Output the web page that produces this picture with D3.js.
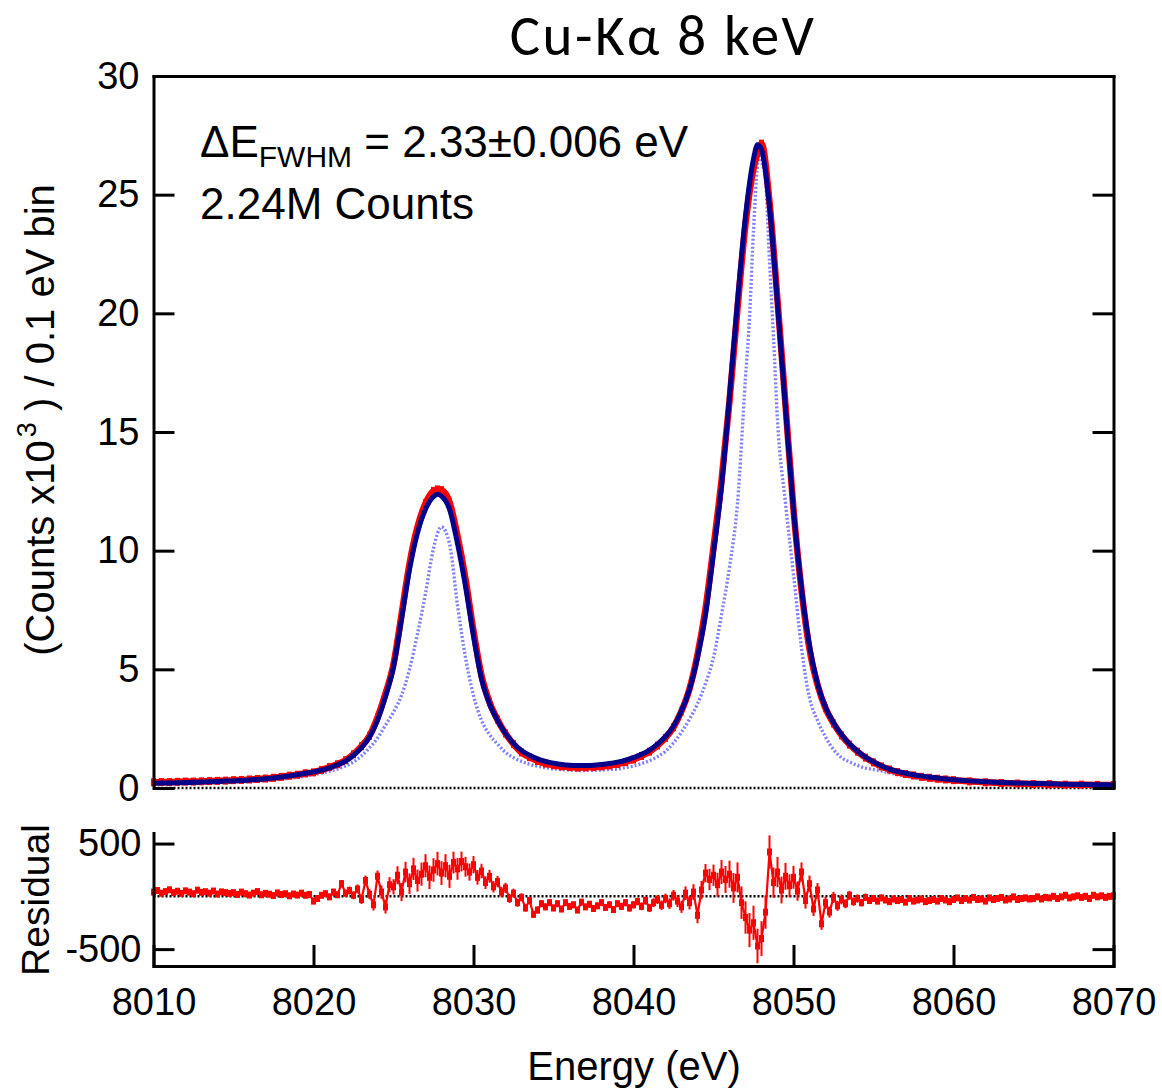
<!DOCTYPE html>
<html>
<head>
<meta charset="utf-8">
<script src="https://cdn.jsdelivr.net/npm/d3@7"></script>
<style>
  body { margin: 0; background: #fff; }
  svg { display: block; }
  text { font-family: "Liberation Sans", Arial, sans-serif; fill: #000; }
</style>
</head>
<body>
<div id="chart"></div>
<script>
// Cu-Kalpha spectrum: measured counts, fit, intrinsic line shape, and fit residual

// fit and measured data share one energy grid (eV)
const fitEnergy = [
  8010, 8010.5, 8011, 8011.5, 8012, 8012.5, 8013, 8013.5, 8014, 8014.5,
  8015, 8015.5, 8016, 8016.5, 8017, 8017.5, 8018, 8018.5, 8019, 8019.5,
  8020, 8020.5, 8021, 8021.5, 8022, 8022.5, 8023, 8023.5, 8024, 8024.5,
  8025, 8025.5, 8026, 8026.5, 8027, 8027.5, 8027.75,
  8028, 8028.5, 8029, 8029.5, 8030, 8030.5, 8031, 8031.5, 8032, 8032.5,
  8033, 8033.5, 8034, 8034.5, 8035, 8035.5, 8036, 8036.5, 8037, 8037.5,
  8038, 8038.5, 8039, 8039.5, 8040, 8040.5, 8041, 8041.5, 8042, 8042.5,
  8043, 8043.5, 8044, 8044.5, 8045, 8045.5, 8046, 8046.5, 8047, 8047.5, 8047.75,
  8048, 8048.5, 8049, 8049.5, 8050, 8050.5, 8051, 8051.5, 8052, 8052.5,
  8053, 8053.5, 8054, 8054.5, 8055, 8055.5, 8056, 8056.5, 8057, 8057.5,
  8058, 8058.5, 8059, 8059.5, 8060,
  8061, 8062, 8063, 8064, 8065, 8066, 8067, 8068, 8069, 8070
];

// fit (counts x10^3 per 0.1 eV bin)
const fitCounts = [
  0.20, 0.21, 0.21, 0.22, 0.23, 0.24, 0.25, 0.26, 0.27, 0.29,
  0.30, 0.32, 0.34, 0.36, 0.39, 0.42, 0.46, 0.51, 0.56, 0.62,
  0.68, 0.75, 0.85, 0.98, 1.13, 1.38, 1.70, 2.15, 2.85, 3.85,
  5.10, 7.10, 9.20, 10.75, 11.75, 12.28, 12.38,
  12.30, 11.75, 10.30, 8.50, 6.40, 4.60, 3.55, 2.85, 2.30, 1.88,
  1.58, 1.38, 1.23, 1.12, 1.04, 0.99, 0.96, 0.95, 0.95, 0.96,
  0.99, 1.03, 1.09, 1.17, 1.28, 1.42, 1.60, 1.85, 2.17, 2.60,
  3.25, 4.15, 5.50, 7.30, 9.90, 12.70, 16.50, 20.50, 24.10, 26.50, 27.10,
  26.90, 24.50, 20.40, 16.00, 11.70, 8.40, 6.00, 4.40, 3.40, 2.75,
  2.25, 1.85, 1.55, 1.30, 1.10, 0.93, 0.80, 0.70, 0.62, 0.56,
  0.50, 0.46, 0.42, 0.38, 0.35,
  0.30, 0.26, 0.23, 0.21, 0.19, 0.18, 0.16, 0.15, 0.14, 0.13
];

// measured data (counts x10^3 per 0.1 eV bin)
const dataCounts = [
  0.24, 0.25, 0.25, 0.26, 0.27, 0.27, 0.28, 0.29, 0.30, 0.31,
  0.33, 0.34, 0.36, 0.38, 0.40, 0.43, 0.47, 0.52, 0.56, 0.62,
  0.66, 0.76, 0.88, 1.00, 1.17, 1.42, 1.76, 2.20, 2.97, 3.98,
  5.22, 7.30, 9.45, 11.00, 12.00, 12.52, 12.58,
  12.55, 12.05, 10.62, 8.82, 6.62, 4.74, 3.62, 2.88, 2.30, 1.85,
  1.50, 1.30, 1.14, 1.03, 0.96, 0.91, 0.88, 0.86, 0.87, 0.88,
  0.91, 0.95, 1.01, 1.09, 1.20, 1.35, 1.53, 1.79, 2.11, 2.56,
  3.24, 4.18, 5.62, 7.55, 10.15, 12.95, 16.30, 20.20, 23.75, 26.10, 26.75,
  27.15, 24.70, 20.55, 16.15, 11.75, 8.35, 5.85, 4.35, 3.36, 2.72,
  2.22, 1.83, 1.53, 1.28, 1.08, 0.91, 0.78, 0.67, 0.59, 0.53,
  0.47, 0.43, 0.39, 0.36, 0.33,
  0.28, 0.24, 0.21, 0.19, 0.17, 0.16, 0.14, 0.14, 0.13, 0.13
];

// intrinsic line shape (dotted)
const lineEnergy = [
  8010, 8011, 8012, 8013, 8014, 8015, 8016, 8017, 8018,
  8019, 8019.5, 8020, 8020.5, 8021, 8021.5, 8022, 8022.5, 8023, 8023.5,
  8024, 8024.5, 8025, 8025.5, 8026, 8026.5, 8027, 8027.5, 8028, 8028.5,
  8029, 8029.5, 8030, 8030.5, 8031, 8031.5, 8032, 8032.5, 8033, 8033.5,
  8034, 8034.5, 8035, 8035.5, 8036, 8036.5, 8037, 8037.5, 8038, 8038.5,
  8039, 8039.5, 8040, 8040.5, 8041, 8041.5, 8042, 8042.5, 8043, 8043.5,
  8044, 8044.5, 8045, 8045.5, 8046, 8046.5,
  8047, 8047.25, 8047.5, 8047.85, 8048, 8048.25, 8048.5, 8048.75, 8049, 8049.5, 8050, 8050.5, 8051,
  8051.5, 8052, 8052.5, 8053, 8053.5, 8054, 8054.5, 8055, 8055.5, 8056,
  8057, 8058, 8059, 8060, 8061, 8062, 8064, 8066, 8068, 8070
];
const lineCounts = [
  0.16, 0.17, 0.18, 0.20, 0.22, 0.24, 0.27, 0.31, 0.37,
  0.45, 0.50, 0.56, 0.63, 0.71, 0.80, 0.93, 1.10, 1.35, 1.70,
  2.10, 2.65, 3.20, 3.90, 5.00, 6.50, 8.20, 10.10, 11.00, 10.30,
  7.70, 5.50, 3.90, 2.85, 2.25, 1.85, 1.50, 1.28, 1.12, 1.00,
  0.92, 0.86, 0.81, 0.78, 0.76, 0.74, 0.74, 0.75, 0.76, 0.78,
  0.80, 0.86, 0.93, 1.03, 1.15, 1.32, 1.55, 1.90, 2.35, 2.90,
  3.55, 4.40, 5.50, 7.30, 9.30, 12.00,
  17.30, 19.80, 23.50, 26.70, 26.40, 25.60, 22.20, 19.00, 15.50, 12.00, 9.00, 5.90, 3.80,
  2.85, 2.15, 1.62, 1.28, 1.10, 0.95, 0.84, 0.78, 0.72, 0.64,
  0.50, 0.38, 0.31, 0.26, 0.22, 0.20, 0.16, 0.14, 0.12, 0.11
];

// residual (counts), bins every 0.25 eV from 8010
const RES_START = 8010;
const RES_STEP = 0.25;
const residualCounts = [
  40, 55, 30, 45, 62, 35, 48, 28, 52, 40, 25, 58, 38, 44, 30, 50, 22, 42, 35, 28,
  35, 18, 40, 25, 12, 30, 45, 15, 28, 20, 8, 32, 18, 25, 5, 22, 12, 30, 10, 18,
  -45, -20, 10, 25, -5, 40, 15, 120, 30, 55, 10, 70, -30, 150, 20, -80, 190, 40, -100, 110,
  90, 200, 40, 230, 120, 260, 150, 210, 290, 180, 250, 310, 220, 290, 190, 320, 260, 330, 280, 230,
  300, 180, 240, 130, 190, 90, 140, 40, 80, -20, 30, -60, -10, -110, -40, -170, -130, -70, -100, -60,
  -110, -70, -120, -60, -95, -80, -130, -55, -100, -75, -115, -90, -60, -105, -80, -125, -70, -95, -60, -110,
  -80, -50, -95, -40, -110, -60, -30, -85, -20, -70, 10, -45, -100, 30, -60, 40, -180, 60, 220, 160,
  200, 110, 230, 160, 210, 80, 180, -60, -200, -320, -250, -470, -400, -150, 420, 130, 230, 60, 190, 100,
  180, 50, 230, -40, 120, -120, 60, -260, -60, -150, -10, -90, -30, -70, 10, -50, -20, -60, -10, -40,
  -20, -45, -15, -35, -50, -25, -40, -30, -55, -20, -45, -35, -25, -50, -40, -30, -45, -20, -35, -50,
  -30, -15, -40, -20, -35, -10, -30, -25, -45, -15, -30, -20, -10, -35, -25, -5, -30, -20, -15, -25,
  -20, -5, -25, -10, -15, 0, -20, -5, 10, -15, -5, 5, -10, 0, -20, 10, -5, 5, -10, 0,
  5
];

const countTicks = [0, 5, 10, 15, 20, 25, 30];
const residualTicks = [-500, 500];
const energyTicks = [8010, 8020, 8030, 8040, 8050, 8060, 8070];

const W = 1162, H = 1091;
const RED = '#ff0000', NAVY = '#00008b', LIGHT = '#8080ff';

const svg = d3.select('#chart').append('svg')
  .attr('width', W)
  .attr('height', H)
  .attr('viewBox', `0 0 ${W} ${H}`);

svg.append('rect').attr('width', W).attr('height', H).attr('fill', '#fff');

// scales
const x = d3.scaleLinear().domain([8010, 8070]).range([153.5, 1113.5]);
const y = d3.scaleLinear().domain([0, 30]).range([788, 76]);
const yRes = d3.scaleLinear().domain([-660, 600]).range([966, 833]);

const fit = fitEnergy.map((e, i) => ({ e, v: fitCounts[i] }));
const data = fitEnergy.map((e, i) => ({ e, v: dataCounts[i] }));
const shape = lineEnergy.map((e, i) => ({ e, v: lineCounts[i] }));
const resid = residualCounts.map((r, i) => ({ e: RES_START + i * RES_STEP, r }));

// poisson error from the measured counts of the nearest bin
const bisect = d3.bisector(d => d.e).center;
resid.forEach(d => {
  const near = data[bisect(data, d.e)];
  d.err = Math.sqrt(near.v * 1000);
});

// zero lines
svg.append('line')
  .attr('x1', x(8010)).attr('x2', x(8070))
  .attr('y1', y(0)).attr('y2', y(0))
  .attr('stroke', '#000').attr('stroke-width', 2.5)
  .attr('stroke-dasharray', '2,2');

svg.append('line')
  .attr('x1', x(8010)).attr('x2', x(8070))
  .attr('y1', yRes(0)).attr('y2', yRes(0))
  .attr('stroke', '#000').attr('stroke-width', 2.5)
  .attr('stroke-dasharray', '2,2');

const line = d3.line()
  .x(d => x(d.e))
  .y(d => y(d.v))
  .curve(d3.curveMonotoneX);

// intrinsic line shape
svg.append('path')
  .datum(shape)
  .attr('d', line)
  .attr('fill', 'none')
  .attr('stroke', LIGHT)
  .attr('stroke-width', 3.4)
  .attr('stroke-dasharray', '2,2');

// measured data
svg.append('path')
  .datum(data)
  .attr('d', line)
  .attr('fill', 'none')
  .attr('stroke', RED)
  .attr('stroke-width', 6.5);

svg.append('g')
  .selectAll('rect')
  .data(data)
  .join('rect')
  .attr('x', d => x(d.e) - 2.5)
  .attr('y', d => y(d.v) - 4)
  .attr('width', 5)
  .attr('height', 8)
  .attr('fill', RED);

// fit
svg.append('path')
  .datum(fit)
  .attr('d', line)
  .attr('fill', 'none')
  .attr('stroke', NAVY)
  .attr('stroke-width', 5);

// residual panel
const rg = svg.append('g');
rg.selectAll('line')
  .data(resid)
  .join('line')
  .attr('x1', d => x(d.e)).attr('x2', d => x(d.e))
  .attr('y1', d => yRes(d.r - d.err))
  .attr('y2', d => yRes(d.r + d.err))
  .attr('stroke', RED)
  .attr('stroke-width', 2);

rg.append('path')
  .datum(resid)
  .attr('d', d3.line().x(d => x(d.e)).y(d => yRes(d.r)))
  .attr('fill', 'none')
  .attr('stroke', RED)
  .attr('stroke-width', 2.2);

rg.selectAll('rect')
  .data(resid)
  .join('rect')
  .attr('x', d => x(d.e) - 2.5)
  .attr('y', d => yRes(d.r) - 3.5)
  .attr('width', 5)
  .attr('height', 7)
  .attr('fill', RED);

// axes
function styleAxis(g, size) {
  g.selectAll('.domain').attr('stroke', '#000').attr('stroke-width', 3)
    .attr('stroke-linecap', 'square');
  g.selectAll('.tick line').attr('stroke', '#000').attr('stroke-width', 3);
  g.selectAll('.tick text')
    .attr('font-size', size)
    .attr('font-family', '"Liberation Sans", Arial, sans-serif')
    .attr('fill', '#000');
}

svg.append('g')
  .attr('transform', `translate(${x(8010)},0)`)
  .call(d3.axisLeft(y).tickValues(countTicks).tickSizeInner(-21).tickSizeOuter(0)
    .tickPadding(14).tickFormat(d => String(d)))
  .call(g => styleAxis(g, 38));

svg.append('g')
  .attr('transform', `translate(${x(8070)},0)`)
  .call(d3.axisRight(y).tickValues(countTicks).tickSizeInner(-21).tickSizeOuter(0)
    .tickFormat(''))
  .call(g => styleAxis(g, 38));

svg.append('g')
  .attr('transform', `translate(0,${y(30)})`)
  .call(d3.axisTop(x).tickValues([]).tickSizeOuter(0))
  .call(g => styleAxis(g, 38));

svg.append('g')
  .attr('transform', `translate(${x(8010)},0)`)
  .call(d3.axisLeft(yRes).tickValues(residualTicks).tickSizeInner(-21).tickSizeOuter(0)
    .tickPadding(12).tickFormat(d => String(d)))
  .call(g => styleAxis(g, 38));

svg.append('g')
  .attr('transform', `translate(${x(8070)},0)`)
  .call(d3.axisRight(yRes).tickValues(residualTicks).tickSizeInner(-21).tickSizeOuter(0)
    .tickFormat(''))
  .call(g => styleAxis(g, 38));

svg.append('g')
  .attr('transform', `translate(0,966)`)
  .call(d3.axisBottom(x).tickValues(energyTicks).tickSizeInner(-21).tickSizeOuter(0)
    .tickPadding(22).tickFormat(d => String(d)))
  .call(g => styleAxis(g, 38));

// title
svg.append('text')
  .attr('x', 663).attr('y', 55)
  .attr('text-anchor', 'middle')
  .style('font-family', 'Carlito, Calibri, Lato, sans-serif')
  .style('letter-spacing', '2.5px')
  .attr('font-size', 57)
  .text('Cu-Kα 8 keV');

// annotation
const note = svg.append('text')
  .attr('x', 200).attr('y', 157)
  .attr('font-size', 44);
note.append('tspan').text('ΔE');
note.append('tspan').attr('font-size', 30).attr('dy', 10).text('FWHM');
note.append('tspan').attr('dy', -10).text(' = 2.33±0.006 eV');

svg.append('text')
  .attr('x', 200).attr('y', 219)
  .attr('font-size', 44)
  .text('2.24M Counts');

// axis titles
const yl = svg.append('text')
  .attr('transform', 'translate(54,420) rotate(-90)')
  .attr('text-anchor', 'middle')
  .attr('font-size', 40);
yl.append('tspan').text('(Counts x10');
yl.append('tspan').attr('font-size', 27).attr('dx', 3).attr('dy', -18).text('3');
yl.append('tspan').attr('dy', 18).text('  ) / 0.1 eV bin');

svg.append('text')
  .attr('transform', 'translate(49,900) rotate(-90)')
  .attr('text-anchor', 'middle')
  .attr('font-size', 39)
  .text('Residual');

svg.append('text')
  .attr('x', 634).attr('y', 1080)
  .attr('text-anchor', 'middle')
  .attr('font-size', 40)
  .text('Energy (eV)');
</script>
</body>
</html>
